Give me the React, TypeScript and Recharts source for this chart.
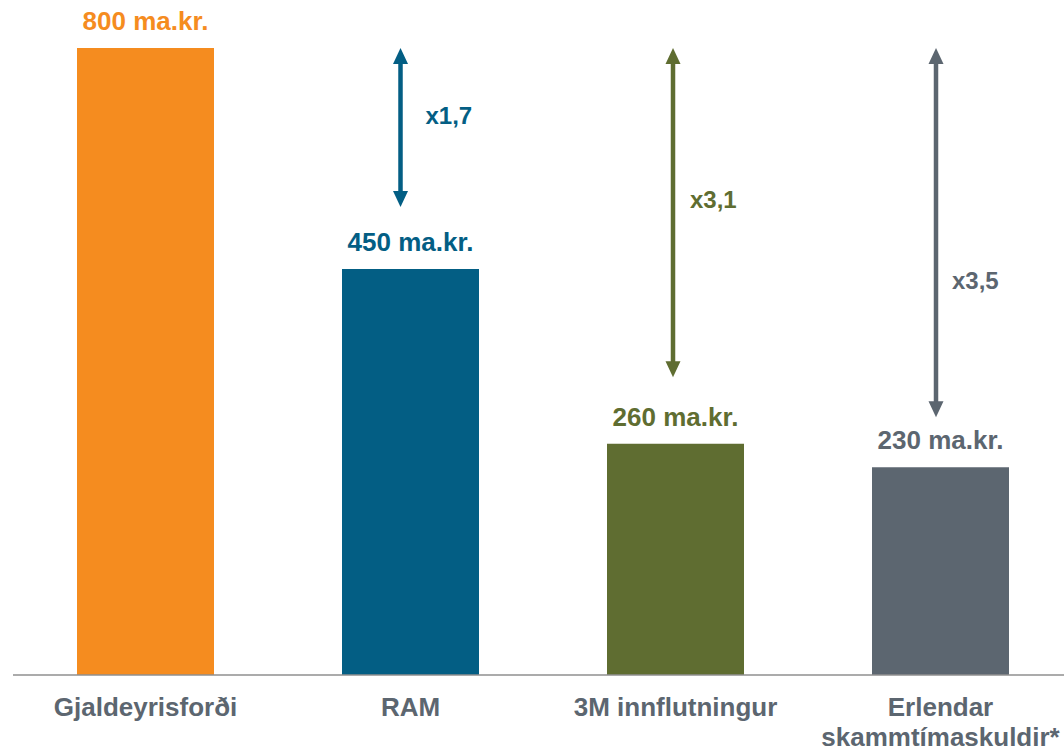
import React from 'react';
import { BarChart, Bar, XAxis, YAxis, Cell, LabelList, ReferenceLine } from 'recharts';

// categories and bar heights as drawn (scaled so the reserve bar = 800)
const categories = ['Gjaldeyrisforði', 'RAM', '3M innflutningur', 'Erlendar skammtímaskuldir*'];
const barValues = [800, 518, 295, 265];
const valueLabels = ['800 ma.kr.', '450 ma.kr.', '260 ma.kr.', '230 ma.kr.'];
const colors = ['#F58C1F', '#035E84', '#5F6D31', '#5C6670'];

// multiplier arrows, from the top of the reserve bar down towards each bar
const arrowCategories = ['RAM', '3M innflutningur', 'Erlendar skammtímaskuldir*'];
const arrowTop = [800, 800, 800];
const arrowBottom = [597, 380, 329];
const multipliers = ['x1,7', 'x3,1', 'x3,5'];
const multiplierLevel = [714, 607, 503];
const arrowColors = ['#035E84', '#5F6D31', '#5C6670'];

const FONT = '"Liberation Sans", Arial, sans-serif';
const TEXT_GRAY = '#5C6670';

const data = categories.map((name, i) => ({
    name,
    value: barValues[i],
    label: valueLabels[i],
}));

const CategoryTick = (props: any) => {
    const { x, y, payload } = props;
    const text: string = payload.value;
    const lines = text.length > 20 ? [text.slice(0, text.indexOf(' ')), text.slice(text.indexOf(' ') + 1)] : [text];
    return (
        <text x={x} y={y} textAnchor="middle" fill={TEXT_GRAY} fontFamily={FONT} fontWeight="bold" fontSize={26}>
            {lines.map((l, i) => (
                <tspan key={i} x={x} dy={i === 0 ? 41 : 30}>{l}</tspan>
            ))}
        </text>
    );
};

const ValueLabel = (props: any) => {
    const { x, y, width, value, index } = props;
    return (
        <text x={x + width / 2} y={y - 18} textAnchor="middle" fill={colors[index]} fontFamily={FONT} fontWeight="bold" fontSize={26}>
            {value}
        </text>
    );
};

const makeArrow = (i: number, dx: number, textGap: number, textY: (y1: number, y2: number) => number) => (props: any) => {
    const { x1, y1, y2 } = props;
    const x = x1 + dx;
    const c = arrowColors[i];
    const top = Math.min(y1, y2);
    const bottom = Math.max(y1, y2);
    const head = 16;
    const hw = 7.5;
    return (
        <g>
            <line x1={x} x2={x} y1={top + head - 1} y2={bottom - head + 1} stroke={c} strokeWidth={4.5} />
            <polygon points={`${x},${top} ${x - hw},${top + head} ${x + hw},${top + head}`} fill={c} />
            <polygon points={`${x},${bottom} ${x - hw},${bottom - head} ${x + hw},${bottom - head}`} fill={c} />
            <text x={x + textGap} y={textY(top, bottom)} dy="0.35em" fill={c} fontFamily={FONT} fontWeight="bold" fontSize={24}>
                {multipliers[i]}
            </text>
        </g>
    );
};

// y scale: plot from y=48 (800) to y=675 (0)
const toPx = (v: number) => 675 - (v * 627) / 800;

const arrowOffsets = [-10, -2.5, -4.5];
const textGaps = [25, 17, 16];

export default function App() {
    return (
        <div style={{ position: 'absolute', left: 0, top: 0, width: 1064, height: 751, overflow: 'hidden', background: '#fff' }}>
            <BarChart
                width={1073}
                height={751}
                data={data}
                margin={{ top: 48, right: 0, bottom: 0, left: 13 }}
                barSize={137}
            >
                <XAxis
                    dataKey="name"
                    height={76}
                    axisLine={{ stroke: '#8F8F8F', strokeWidth: 1.5 }}
                    tickLine={false}
                    tickSize={0}
                    tickMargin={0}
                    interval={0}
                    tick={<CategoryTick />}
                />
                <YAxis hide domain={[0, 800]} width={0} />
                <Bar dataKey="value" isAnimationActive={false}>
                    {data.map((_, i) => (
                        <Cell key={`cell-${i}`} fill={colors[i]} />
                    ))}
                    <LabelList dataKey="label" position="top" content={<ValueLabel />} />
                </Bar>
                {arrowCategories.map((cat, i) => (
                    <ReferenceLine
                        key={cat}
                        segment={[{ x: cat, y: arrowTop[i] }, { x: cat, y: arrowBottom[i] }]}
                        ifOverflow="visible"
                        shape={makeArrow(i, arrowOffsets[i], textGaps[i], () => toPx(multiplierLevel[i]))}
                    />
                ))}
            </BarChart>
        </div>
    );
}
